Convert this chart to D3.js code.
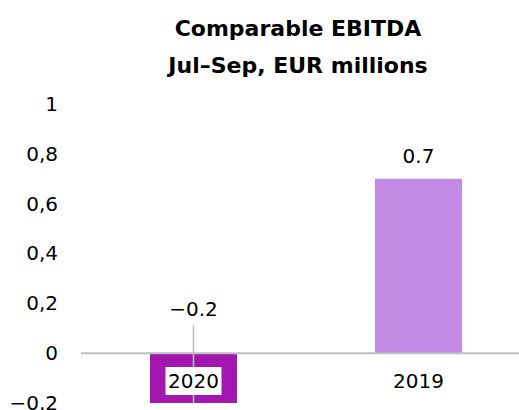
<!DOCTYPE html>
<html>
<head>
<meta charset="utf-8">
<script src="https://cdn.jsdelivr.net/npm/d3@7"></script>
<style>
  body { margin: 0; background: #fff; }
  text { font-family: "DejaVu Sans", sans-serif; fill: #000; }
</style>
</head>
<body>
<div id="chart"></div>
<script>
const titleLines = ["Comparable EBITDA", "Jul\u2013Sep, EUR millions"];
const categories = ["2020", "2019"];
const values = [-0.2, 0.7];
const valueLabels = ["\u22120.2", "0.7"];
const tickValues = [-0.2, 0, 0.2, 0.4, 0.6, 0.8, 1];
const tickLabels = ["\u22120,2", "0", "0,2", "0,4", "0,6", "0,8", "1"];
const colors = ["#a316af", "#c28ae5"];

const width = 519, height = 410;

const svg = d3.select("#chart").append("svg")
    .attr("width", width)
    .attr("height", height);

// title
svg.append("g").selectAll("text")
    .data(titleLines)
    .join("text")
    .attr("x", 298)
    .attr("y", (d, i) => 36 + i * 37)
    .attr("text-anchor", "middle")
    .style("font-size", "22px")
    .style("font-weight", "bold")
    .text(d => d);

const y = d3.scaleLinear()
    .domain([-0.2, 1])
    .range([403, 104]);

const x = d3.scaleBand()
    .domain(categories)
    .range([81, 531])
    .paddingInner(0.613)
    .paddingOuter(0.3065);

// y tick labels, no axis line
const yAxis = svg.append("g")
    .attr("transform", "translate(58,0)")
    .call(d3.axisLeft(y).tickValues(tickValues).tickSize(0).tickPadding(0)
        .tickFormat((d, i) => tickLabels[i]));
yAxis.select(".domain").remove();
yAxis.selectAll("text")
    .style("font-family", "DejaVu Sans, sans-serif")
    .style("font-size", "20px")
    .attr("fill", "#000");

// bars
svg.append("g").selectAll("rect")
    .data(categories)
    .join("rect")
    .attr("x", d => x(d))
    .attr("width", x.bandwidth())
    .attr("y", (d, i) => y(Math.max(0, values[i])))
    .attr("height", (d, i) => Math.abs(y(values[i]) - y(0)))
    .attr("fill", (d, i) => colors[i]);

// zero line
svg.append("line")
    .attr("x1", 81).attr("x2", width)
    .attr("y1", y(0)).attr("y2", y(0))
    .attr("stroke", "#bfbfbf")
    .attr("stroke-width", 2);

// leader line for the negative bar
categories.forEach((c, i) => {
    if (values[i] < 0) {
        svg.append("line")
            .attr("x1", x(c) + x.bandwidth() / 2)
            .attr("x2", x(c) + x.bandwidth() / 2)
            .attr("y1", y(0) - 28)
            .attr("y2", y(values[i]))
            .attr("stroke", "#bfbfbf")
            .attr("stroke-width", 1.5);
    }
});

// value labels
svg.append("g").selectAll("text")
    .data(categories)
    .join("text")
    .attr("x", d => x(d) + x.bandwidth() / 2)
    .attr("y", (d, i) => values[i] >= 0 ? y(values[i]) - 16 : y(0) - 37)
    .attr("text-anchor", "middle")
    .style("font-size", "20px")
    .text((d, i) => valueLabels[i]);

// category labels, with white box behind
const cat = svg.append("g").selectAll("g")
    .data(categories)
    .join("g")
    .attr("transform", d => `translate(${x(d) + x.bandwidth() / 2},388)`);
cat.append("rect")
    .attr("x", -28).attr("y", -21)
    .attr("width", 56).attr("height", 28)
    .attr("fill", "#fff");
cat.append("text")
    .attr("text-anchor", "middle")
    .style("font-size", "20px")
    .text(d => d);
</script>
</body>
</html>
